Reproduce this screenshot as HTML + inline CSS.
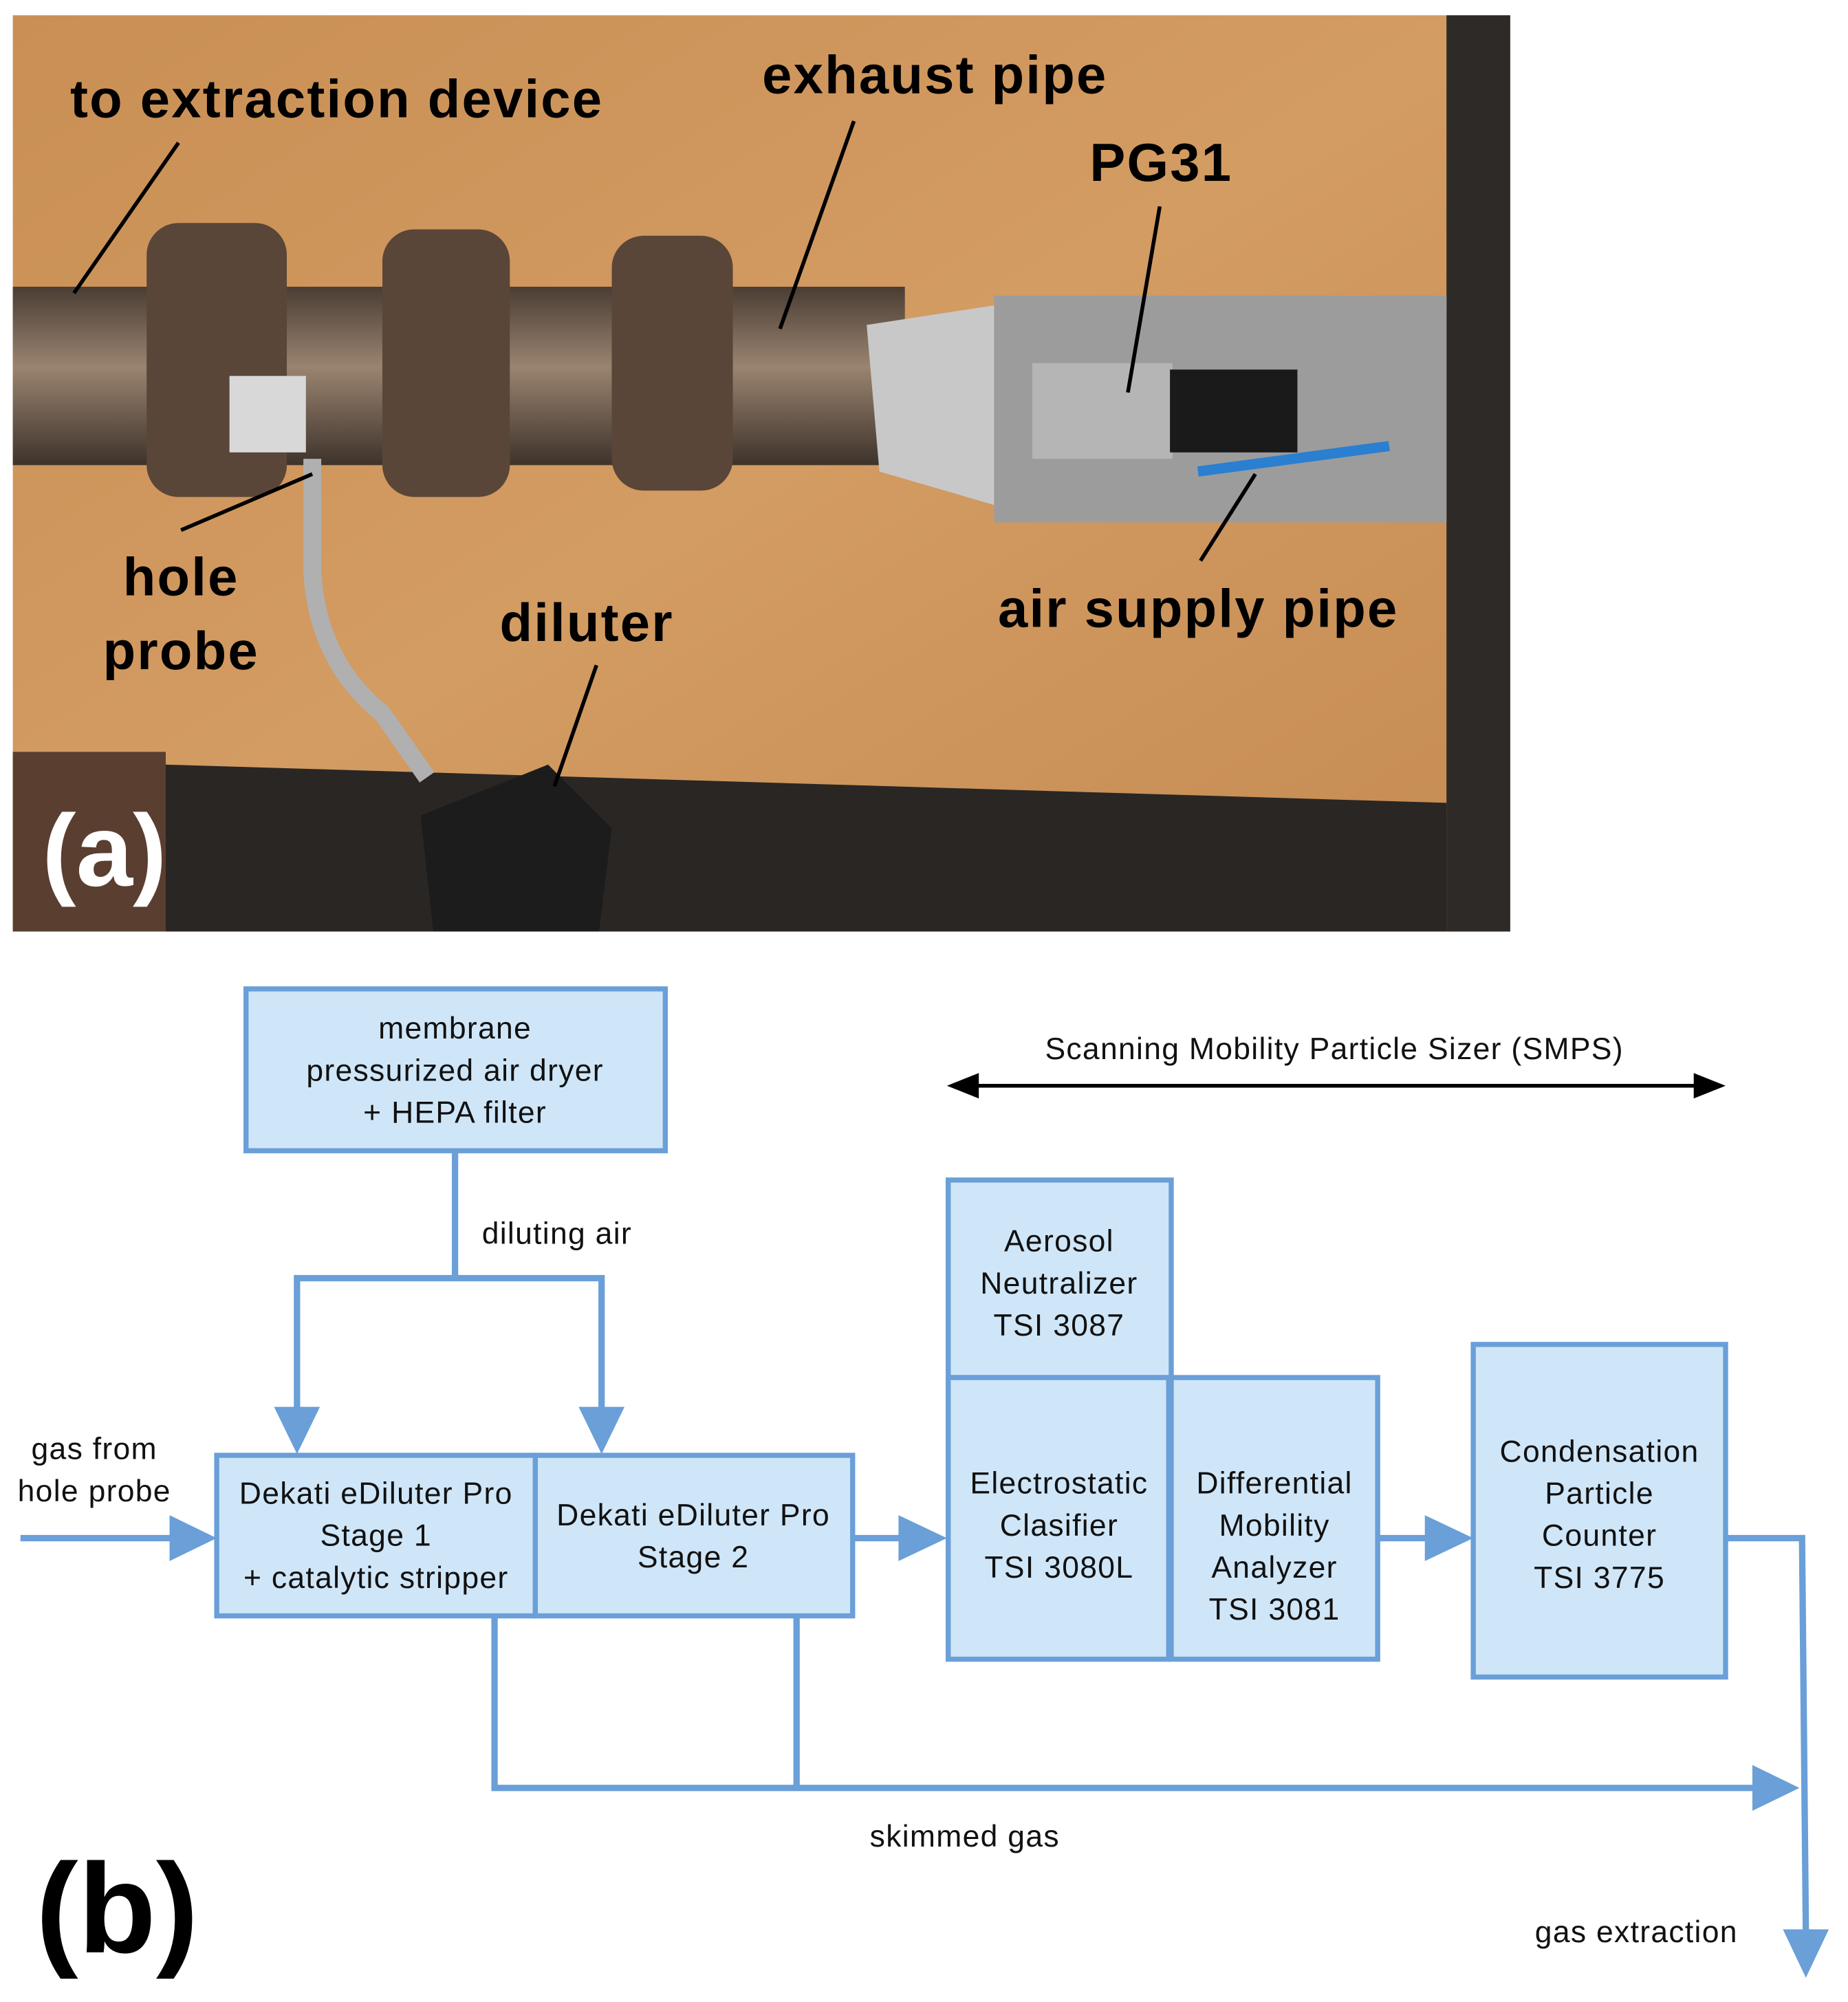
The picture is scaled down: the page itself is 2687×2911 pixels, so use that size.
<!DOCTYPE html>
<html><head><meta charset="utf-8"><style>
html,body{margin:0;padding:0;background:#fff;}
svg{display:block;}
text{font-family:"Liberation Sans",sans-serif;}
</style></head><body>
<svg width="2687" height="2911" viewBox="0 0 1450 1571" xmlns="http://www.w3.org/2000/svg">
<defs>
<linearGradient id="wood" x1="0" y1="0" x2="1" y2="1">
<stop offset="0" stop-color="#c98f55"/><stop offset="0.5" stop-color="#d39c62"/><stop offset="1" stop-color="#c48a52"/>
</linearGradient>
<linearGradient id="pipe" x1="0" y1="0" x2="0" y2="1">
<stop offset="0" stop-color="#4a3d33"/><stop offset="0.45" stop-color="#9a8470"/><stop offset="1" stop-color="#3e332b"/>
</linearGradient>
</defs>
<rect x="10" y="12" width="1175" height="719" fill="url(#wood)"/>
<rect x="1135" y="12" width="50" height="719" fill="#2e2a27"/>
<path d="M10 590 L130 590 L130 731 L10 731Z" fill="#5a3e30"/>
<path d="M130 600 L1135 630 L1135 731 L130 731Z" fill="#2a2624"/>
<rect x="10" y="225" width="700" height="140" fill="url(#pipe)"/>
<rect x="115" y="175" width="110" height="215" rx="25" fill="#5a4638"/>
<rect x="300" y="180" width="100" height="210" rx="25" fill="#5a4638"/>
<rect x="480" y="185" width="95" height="200" rx="25" fill="#5a4638"/>
<rect x="180" y="295" width="60" height="60" fill="#d8d8d8"/>
<path d="M680 255 L810 235 L810 405 L690 370Z" fill="#c8c8c8"/>
<rect x="780" y="232" width="355" height="178" fill="#9c9c9c"/>
<rect x="810" y="285" width="110" height="75" fill="#b5b5b5"/>
<rect x="918" y="290" width="100" height="65" fill="#1a1a1a"/>
<path d="M940 370 L1090 350" stroke="#2a7fd0" stroke-width="8" fill="none"/>
<path d="M245 360 L245 450 Q250 520 300 560 L335 610" stroke="#b0b0b0" stroke-width="14" fill="none"/>
<path d="M330 640 L430 600 L480 650 L470 731 L340 731Z" fill="#1c1c1c"/>
<g fill="none" stroke="#000" stroke-width="3">
<line x1="140" y1="112" x2="58" y2="230"/>
<line x1="670" y1="95" x2="612" y2="258"/>
<line x1="910" y1="162" x2="885" y2="308"/>
<line x1="245" y1="372" x2="142" y2="416"/>
<line x1="468" y1="522" x2="435" y2="617"/>
<line x1="985" y1="372" x2="942" y2="440"/>
</g>
<g font-weight="bold" font-size="42" fill="#000" letter-spacing="1.2">
<text x="55" y="92">to extraction device</text>
<text x="598" y="73">exhaust pipe</text>
<text x="855" y="142">PG31</text>
<text x="142" y="467" text-anchor="middle">hole</text>
<text x="142" y="525" text-anchor="middle">probe</text>
<text x="392" y="503">diluter</text>
<text x="783" y="492">air supply pipe</text>
</g>
<text x="33" y="695" font-weight="bold" font-size="80" fill="#fff">(a)</text>
<g fill="#cfe6f8" stroke="#6a9fd8" stroke-width="4">
<rect x="193" y="776" width="329" height="127"/>
<rect x="170" y="1142" width="250" height="126"/>
<rect x="420" y="1142" width="249" height="126"/>
<rect x="744" y="926" width="175" height="155"/>
<rect x="744" y="1081" width="173" height="221"/>
<rect x="919" y="1081" width="162" height="221"/>
<rect x="1156" y="1055" width="198" height="261"/>
</g>
<g fill="none" stroke="#6a9fd8" stroke-width="5">
<polyline points="357,903 357,1003"/>
<polyline points="233,1108 233,1003 472,1003 472,1108"/>
<line x1="16" y1="1207" x2="135" y2="1207"/>
<line x1="669" y1="1207" x2="707" y2="1207"/>
<line x1="1081" y1="1207" x2="1120" y2="1207"/>
<polyline points="1354,1207 1414,1207 1417,1518"/>
<polyline points="388,1268 388,1403 1377,1403"/>
<line x1="625" y1="1268" x2="625" y2="1403"/>
</g>
<g fill="#6a9fd8">
<polygon points="215,1104 251,1104 233,1141"/>
<polygon points="454,1104 490,1104 472,1141"/>
<polygon points="133,1189 133,1225 170,1207"/>
<polygon points="705,1189 705,1225 743,1207"/>
<polygon points="1118,1189 1118,1225 1156,1207"/>
<polygon points="1375,1385 1375,1421 1412,1403"/>
<polygon points="1399,1514 1435,1514 1417,1552"/>
</g>
<line x1="765" y1="852" x2="1333" y2="852" stroke="#000" stroke-width="3"/>
<polygon points="743,852 768,842 768,862" fill="#000"/>
<polygon points="1354,852 1329,842 1329,862" fill="#000"/>
<g font-size="24" fill="#111" text-anchor="middle" letter-spacing="0.7">
<text x="357" y="815">membrane</text>
<text x="357" y="848">pressurized air dryer</text>
<text x="357" y="881">+ HEPA filter</text>
<text x="437" y="976">diluting air</text>
<text x="74" y="1145">gas from</text>
<text x="74" y="1178">hole probe</text>
<text x="295" y="1180">Dekati eDiluter Pro</text>
<text x="295" y="1213">Stage 1</text>
<text x="295" y="1246">+ catalytic stripper</text>
<text x="544" y="1197">Dekati eDiluter Pro</text>
<text x="544" y="1230">Stage 2</text>
<text x="831" y="982">Aerosol</text>
<text x="831" y="1015">Neutralizer</text>
<text x="831" y="1048">TSI 3087</text>
<text x="831" y="1172">Electrostatic</text>
<text x="831" y="1205">Clasifier</text>
<text x="831" y="1238">TSI 3080L</text>
<text x="1000" y="1172">Differential</text>
<text x="1000" y="1205">Mobility</text>
<text x="1000" y="1238">Analyzer</text>
<text x="1000" y="1271">TSI 3081</text>
<text x="1255" y="1147">Condensation</text>
<text x="1255" y="1180">Particle</text>
<text x="1255" y="1213">Counter</text>
<text x="1255" y="1246">TSI 3775</text>
<text x="1047" y="831">Scanning Mobility Particle Sizer (SMPS)</text>
<text x="757" y="1449">skimmed gas</text>
<text x="1284" y="1524">gas extraction</text>
</g>
<text x="28" y="1532" font-weight="bold" font-size="100" fill="#000">(b)</text>
</svg>
</body></html>
